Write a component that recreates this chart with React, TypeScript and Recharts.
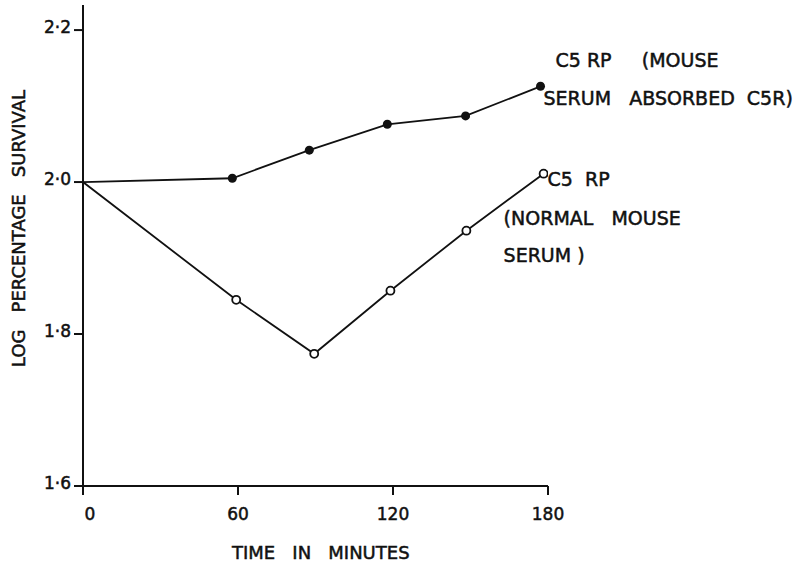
import React from 'react';
import { LineChart, Line, XAxis, YAxis, ReferenceDot } from 'recharts';

// time (minutes) and log % survival
const TIME_ABSORBED = [0, 57.8, 87.6, 117.8, 148.1, 177.1];
const LOG_ABSORBED = [2.0, 2.005, 2.042, 2.076, 2.087, 2.126];
const TIME_NORMAL = [0, 59.3, 89.5, 119.0, 148.4, 178.3];
const LOG_NORMAL = [2.0, 1.845, 1.774, 1.857, 1.936, 2.011];
const X_TICKS = [0, 60, 120, 180];
const Y_TICKS = [1.6, 1.8, 2.0, 2.2];

const absorbed = TIME_ABSORBED.map((t, i) => ({ t, v: LOG_ABSORBED[i] }));
const normal = TIME_NORMAL.map((t, i) => ({ t, v: LOG_NORMAL[i] }));
const lastA = absorbed[absorbed.length - 1];
const lastN = normal[normal.length - 1];

const FONT = '"DejaVu Sans", sans-serif';
const INK = '#111';

const txt = {
  fontFamily: FONT,
  fontSize: 19,
  fill: INK,
  stroke: INK,
  strokeWidth: 0.5,
  whiteSpace: 'pre',
} as React.CSSProperties;

const filledDot = (p: any) =>
  p.index === 0 ? <g key={p.key} /> : <circle key={p.key} cx={p.cx} cy={p.cy} r={4.5} fill={INK} />;
const openDot = (p: any) =>
  p.index === 0 ? <g key={p.key} /> : <circle key={p.key} cx={p.cx} cy={p.cy} r={4} fill="#fff" stroke={INK} strokeWidth={1.8} />;

// multi-line annotation placed relative to a reference point
const note = (lines: Array<[string, number, number]>) => (props: any) => {
  const vb = props.viewBox;
  const cx = vb.x + vb.width / 2;
  const cy = vb.y + vb.height / 2;
  return (
    <g>
      {lines.map(([s, dx, dy], i) => (
        <text key={i} x={cx + dx} y={cy + dy} style={txt}>{s}</text>
      ))}
    </g>
  );
};

const yTitle = (props: any) => {
  const vb = props.viewBox;
  const x = 18;
  const y = vb.y + vb.height / 2 - 17;
  return (
    <text x={x} y={y} transform={`rotate(-90 ${x} ${y})`} textAnchor="middle" dominantBaseline="central" style={{ ...txt, fontSize: 18 }}>
      {'LOG   PERCENTAGE   SURVIVAL'}
    </text>
  );
};

const xTitle = () => (
  <text x={232} y={559} style={{ ...txt, fontSize: 18 }}>
    {'TIME   IN   MINUTES'}
  </text>
);

const xTick = (p: any) => (
  <text x={p.x + (p.payload.value === 0 ? 7 : 0)} y={p.y} dy="0.71em" textAnchor="middle" style={{ ...txt, fontSize: 17 }}>
    {p.payload.value}
  </text>
);

export default function App() {
  return (
    <div style={{ position: 'absolute', left: 0, top: 0, background: '#fff' }}>
      <LineChart width={797} height={565} margin={{ top: 5, right: 249, left: 0, bottom: 39 }}>
        <XAxis
          type="number"
          dataKey="t"
          domain={[0, 180]}
          ticks={X_TICKS}
          allowDataOverflow
          height={40}
          tickSize={9}
          tickMargin={13}
          axisLine={{ stroke: INK, strokeWidth: 2 }}
          tickLine={{ stroke: INK, strokeWidth: 2 }}
          tick={xTick}
          label={xTitle}
        />
        <YAxis
          type="number"
          dataKey="v"
          domain={[1.6, 2.233]}
          ticks={Y_TICKS}
          allowDataOverflow
          width={83}
          tickSize={9}
          tickMargin={3}
          axisLine={{ stroke: INK, strokeWidth: 2 }}
          tickLine={{ stroke: INK, strokeWidth: 2 }}
          tick={{ fill: INK, stroke: INK, strokeWidth: 0.5, fontFamily: FONT, fontSize: 17, dy: -3 }}
          tickFormatter={(v: number) => v.toFixed(1).replace('.', '·')}
          label={yTitle}
        />
        <Line
          data={absorbed}
          dataKey="v"
          type="linear"
          stroke={INK}
          strokeWidth={1.8}
          dot={filledDot}
          isAnimationActive={false}
        />
        <Line
          data={normal}
          dataKey="v"
          type="linear"
          stroke={INK}
          strokeWidth={1.8}
          dot={openDot}
          isAnimationActive={false}
        />
        <ReferenceDot
          x={lastA.t}
          y={lastA.v}
          r={1}
          fill="none"
          stroke="none"
          label={note([
            ['C5 RP     (MOUSE', 15, -19],
            ['SERUM   ABSORBED  C5R)', 3, 19],
          ])}
        />
        <ReferenceDot
          x={lastN.t}
          y={lastN.v}
          r={1}
          fill="none"
          stroke="none"
          label={note([
            ['C5  RP', 4, 12],
            ['(NORMAL   MOUSE', -40, 51],
            ['SERUM )', -40, 88],
          ])}
        />
      </LineChart>
    </div>
  );
}
